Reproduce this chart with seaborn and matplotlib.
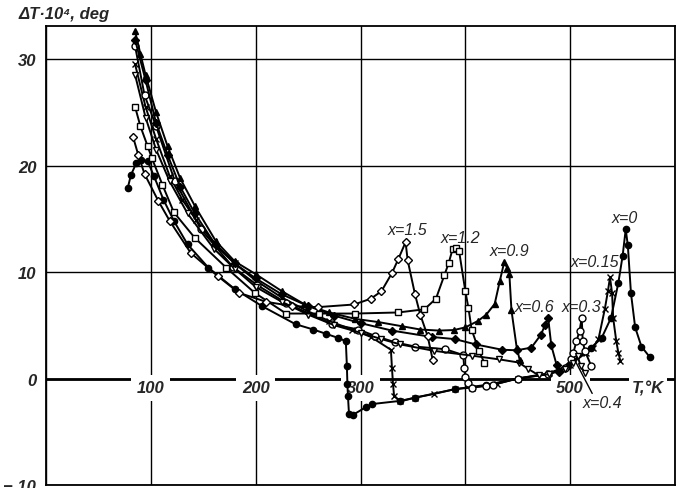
import numpy as np
import pandas as pd
import matplotlib
matplotlib.use("Agg")
import matplotlib.pyplot as plt
import seaborn as sns

# x = 0 (filled circles)
T_x0 = [78, 81, 86, 91, 97, 103, 112, 122, 135, 155, 180, 206, 238, 255, 267, 279, 286, 287, 287.5, 288,
        289, 293, 305, 311, 338, 352, 390, 420, 450, 479, 498, 520, 530, 539, 546, 550, 553, 555, 558, 562, 568, 576]
dT_x0 = [17.9, 19.1, 20.2, 20.5, 20.4, 19.0, 16.8, 14.8, 12.6, 10.4, 8.4, 6.8, 5.1, 4.6, 4.2, 3.8, 3.5, 1.2, -0.5, -1.6,
         -3.3, -3.4, -2.7, -2.4, -2.1, -1.8, -1.0, -0.6, 0.0, 0.4, 1.2, 2.9, 3.8, 5.7, 9.0, 11.5, 14.0, 12.5, 8.0, 4.8, 3.0, 2.0]

# x = 0.15 (crosses)
T_x015 = [85, 95, 105, 118, 130, 143, 160, 180, 200, 225, 250, 270, 292, 310, 329, 330, 331, 332, 338, 352, 370,
          390, 406, 430, 450, 480, 500, 515, 522, 527, 533, 536, 538, 540, 541, 544, 546, 548]
dT_x015 = [29.5, 25.5, 22.5, 19.0, 16.8, 14.9, 12.8, 10.8, 9.2, 7.6, 6.3, 5.4, 4.6, 3.9, 2.7, 1.0, -0.5, -1.6, -2.15, -1.8, -1.45,
           -1.0, -0.85, -0.5, 0.0, 0.5, 1.3, 2.4, 2.9, 3.7, 6.5, 8.2, 9.5, 8.0, 5.7, 3.5, 2.4, 1.6]

# x = 0.3 (open circles)
T_x03 = [85, 94, 105, 123, 148, 178, 201, 229, 273, 298, 314, 333, 352, 381, 398, 399, 400, 403, 406, 420, 426,
         450, 479, 495, 501, 503, 506, 509, 511, 512, 514, 520]
dT_x03 = [31.2, 26.6, 23.7, 18.5, 14.0, 10.5, 8.8, 7.1, 5.1, 4.6, 4.0, 3.4, 3.0, 2.75, 2.2, 1.0, 0.1, -0.4, -0.85, -0.7, -0.6,
          0.0, 0.4, 1.0, 1.8, 2.4, 3.5, 4.5, 5.7, 3.5, 2.6, 1.2]

# x = 0.4 (open down triangles)
T_x04 = [85, 95, 105, 118, 135, 160, 180, 200, 225, 250, 275, 300, 320, 338, 370, 406, 432, 451, 460, 470, 480,
         495, 503, 507, 510, 514]
dT_x04 = [28.5, 24.5, 21.5, 18.5, 15.5, 12.2, 10.3, 8.6, 7.2, 6.0, 5.0, 4.3, 3.7, 3.2, 2.6, 2.15, 1.8, 1.5, 0.9, 0.3, 0.4,
          0.9, 1.5, 2.1, 1.2, 0.5]

# x = 0.6 (filled diamonds)
T_x06 = [85, 95, 105, 116, 128, 142, 162, 180, 200, 225, 250, 275, 300, 330, 368, 390, 410, 435, 449, 463, 472,
         476, 479, 482, 487, 489]
dT_x06 = [31.8, 28.0, 24.0, 21.0, 18.0, 15.5, 12.5, 10.8, 9.4, 7.9, 6.8, 5.9, 5.2, 4.5, 3.9, 3.7, 3.2, 2.7, 2.65, 2.9, 4.1,
          5.0, 5.7, 3.1, 1.3, 0.6]

# x = 0.9 (filled triangles)
T_x09 = [85, 90, 95, 105, 116, 128, 142, 162, 180, 200, 225, 246, 270, 295, 317, 340, 357, 375, 389, 400, 412,
         420, 428, 433, 437, 440, 442, 444, 449, 452]
dT_x09 = [32.6, 30.5, 28.5, 25.0, 21.8, 18.8, 16.2, 12.9, 11.0, 9.8, 8.2, 7.0, 6.2, 5.6, 5.3, 4.9, 4.6, 4.5, 4.55, 4.8, 5.4,
          6.0, 7.0, 9.2, 10.9, 10.4, 9.8, 6.4, 2.9, 1.7]

# x = 1.2 (open squares)
T_x12 = [85, 90, 97, 101, 111, 122, 142, 172, 199, 229, 260, 295, 336, 361, 372, 380, 384, 388, 391, 394, 400,
         403, 406, 413, 418]
dT_x12 = [25.5, 23.7, 21.8, 20.7, 18.2, 15.6, 13.2, 10.4, 8.05, 6.1, 6.1, 6.1, 6.2, 6.5, 7.5, 9.7, 10.8, 12.2, 12.3, 12.0, 8.2,
          6.6, 4.6, 2.6, 1.5]

# x = 1.5 (open diamonds)
T_x15 = [83, 88, 94, 107, 118, 138, 164, 184, 210, 235, 259, 294, 310, 320, 330, 336, 343, 345, 352, 357, 364, 369]
dT_x15 = [22.7, 21.0, 19.2, 16.7, 14.8, 11.8, 9.6, 8.05, 7.2, 6.8, 6.7, 6.95, 7.5, 8.2, 9.9, 11.2, 12.8, 11.1, 7.9, 6.0, 4.0, 1.7]

curve_labels = ["x=0", "x=0.15", "x=0.3", "x=0.4", "x=0.6", "x=0.9", "x=1.2", "x=1.5"]
label_T = [552, 524, 511, 531, 466, 442, 395, 345]
label_dT = [15.1, 10.95, 6.8, -2.25, 6.8, 12.0, 13.2, 14.0]

x_ticks = [100, 200, 300, 500]
y_ticks = [-10, 0, 10, 20, 30]
y_ticklabels = ["\u2212 10", "0", "10", "20", "30"]

sns.set_style("white")
plt.rcParams["font.family"] = ["Liberation Sans", "DejaVu Sans"]

fig = plt.figure(figsize=(6.83, 4.89), dpi=100)
ax = fig.add_axes([46 / 683, 3 / 489, 629 / 683, 459 / 489])

curves = [
    (T_x0, dT_x0, "o", "black", 4.5),
    (T_x015, dT_x015, "x", "black", 5),
    (T_x03, dT_x03, "o", "white", 5),
    (T_x04, dT_x04, "v", "white", 5),
    (T_x06, dT_x06, "D", "black", 4),
    (T_x09, dT_x09, "^", "black", 5),
    (T_x12, dT_x12, "s", "white", 5),
    (T_x15, dT_x15, "D", "white", 4.5),
]
for T, v, m, fc, ms in curves:
    sns.lineplot(x=T, y=v, ax=ax, sort=False, estimator=None, color="black", lw=1.4,
                 marker=m, markersize=ms, markerfacecolor=fc, markeredgecolor="black",
                 markeredgewidth=1.0, zorder=3)

ax.set_xlim(0, 600)
ax.set_ylim(-10, 33.1)
ax.set_xticks(range(0, 601, 100))
ax.set_yticks(y_ticks)
ax.set_yticklabels(y_ticklabels, fontsize=12, style="italic", fontweight="bold")
ax.tick_params(axis="x", labelbottom=False, length=0)
ax.tick_params(axis="y", length=0, pad=7)
ax.grid(True, color="black", lw=1.0)
ax.axhline(0, color="black", lw=2.0, zorder=2)
for s in ax.spines.values():
    s.set_color("black")
    s.set_linewidth(1.3)
ax.set_xlabel("")
ax.set_ylabel("")

for t in x_ticks:
    ax.text(t, -0.85, str(t), ha="center", va="center", fontsize=12, style="italic", fontweight="bold",
            bbox=dict(facecolor="white", edgecolor="none", pad=4), zorder=2.5)
ax.text(574, -0.85, "T,\u00b0K", ha="center", va="center", fontsize=12, style="italic", fontweight="bold",
        bbox=dict(facecolor="white", edgecolor="none", pad=2), zorder=2.5)

for lab, lt, ld in zip(curve_labels, label_T, label_dT):
    ax.text(lt, ld, lab, ha="center", va="center", fontsize=11.5, style="italic", zorder=4)
# pointer for x=0.4
ax.plot([504, 521], [1.8, -1.4], color="black", lw=1.0, zorder=4)

fig.text(19 / 683, 1 - 15 / 489, "\u0394T\u00b710\u2074, deg", ha="left", va="center",
         fontsize=12, fontweight="bold", style="italic")

fig.savefig("out.png", dpi=100)
